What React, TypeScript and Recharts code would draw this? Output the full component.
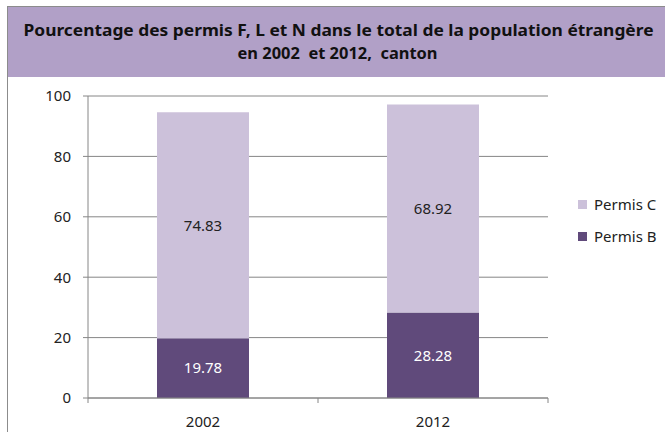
import { BarChart, Bar, XAxis, YAxis, CartesianGrid, Legend, LabelList } from "recharts";

const YEARS = ["2002", "2012"];
const PERMIS_B = [19.78, 28.28];
const PERMIS_C = [74.83, 68.92];
const Y_TICKS = [0, 20, 40, 60, 80, 100];

const TITLE_1 = "Pourcentage des permis F, L et N dans le total de la population étrangère";
const TITLE_2 = "en 2002  et 2012,  canton";

const COLOR_B = "#604a7b";
const COLOR_C = "#ccc1da";
const BAND = "#b1a0c7";
const AXIS = "#868686";
const FONT = "'Noto Sans', sans-serif";

const W = 665;
const H = 432;
const MARGIN = { top: 96, right: 117, bottom: 4, left: 8 };
const Y_AXIS_W = 80;
const X_TICK_SIZE = 5;
const X_TICK_MARGIN = 13;
const PLOT_W = W - MARGIN.left - MARGIN.right - Y_AXIS_W;

const data = YEARS.map((year, i) => ({ year, b: PERMIS_B[i], c: PERMIS_C[i] }));

const legendItems = [
  { label: "Permis C", color: COLOR_C },
  { label: "Permis B", color: COLOR_B },
];

function YearTick(props: any) {
  const { x, y, payload, index } = props;
  const half = PLOT_W / YEARS.length / 2;
  const axisY = y - X_TICK_SIZE - X_TICK_MARGIN;
  return (
    <g>
      <line x1={x - half} x2={x - half} y1={axisY} y2={axisY + X_TICK_SIZE} stroke={AXIS} />
      {index === YEARS.length - 1 && (
        <line x1={x + half} x2={x + half} y1={axisY} y2={axisY + X_TICK_SIZE} stroke={AXIS} />
      )}
      <text x={x} y={y} dy="0.71em" textAnchor="middle" fontSize={15} fill="#222" fontFamily={FONT}>
        {payload.value}
      </text>
    </g>
  );
}

function renderLegend() {
  return (
    <div style={{ fontFamily: FONT, fontSize: 15, color: "#222" }}>
      {legendItems.map((it) => (
        <div key={it.label} style={{ display: "flex", alignItems: "center", height: 32 }}>
          <span style={{ width: 9, height: 9, background: it.color, marginRight: 7, display: "inline-block" }} />
          {it.label}
        </div>
      ))}
    </div>
  );
}

export default function App() {
  return (
    <div style={{ position: "absolute", left: 0, top: 0, width: W, height: H, overflow: "hidden", background: "#fff" }}>
      <div
        style={{
          position: "absolute",
          left: 7,
          top: 6,
          width: 720,
          height: 520,
          border: "1px solid #8c8c8c",
          boxSizing: "border-box",
        }}
      />
      <svg style={{ position: "absolute", left: 8, top: 7 }} width={W - 8} height={70}>
        <rect x={0} y={0} width={W - 8} height={70} fill={BAND} />
        <text
          x={(W - 8) / 2 + 2}
          y={25}
          textAnchor="middle"
          dominantBaseline="middle"
          fontFamily={FONT}
          fontWeight="bold"
          fontSize={16}
          fill="#111"
          textLength={630}
          lengthAdjust="spacingAndGlyphs"
        >
          {TITLE_1}
        </text>
        <text
          x={(W - 8) / 2 + 1}
          y={48}
          textAnchor="middle"
          dominantBaseline="middle"
          fontFamily={FONT}
          fontWeight="bold"
          fontSize={16}
          fill="#111"
          textLength={200}
          lengthAdjust="spacingAndGlyphs"
          style={{ whiteSpace: "pre" }}
        >
          {TITLE_2}
        </text>
      </svg>
      <div style={{ position: "absolute", left: 0, top: 0 }}>
        <BarChart width={W} height={H} data={data} margin={MARGIN} barCategoryGap="30%">
          <CartesianGrid vertical={false} stroke={AXIS} />
          <XAxis
            dataKey="year"
            stroke={AXIS}
            tickLine={false}
            tickSize={X_TICK_SIZE}
            tickMargin={X_TICK_MARGIN}
            height={30}
            tick={<YearTick />}
          />
          <YAxis
            width={Y_AXIS_W}
            domain={[0, 100]}
            ticks={Y_TICKS}
            stroke={AXIS}
            tickSize={5}
            tickMargin={12}
            tick={{ fill: "#222", fontSize: 15, fontFamily: FONT }}
          />
          <Legend
            layout="horizontal"
            verticalAlign="middle"
            align="center"
            wrapperStyle={{ top: 188, left: 578, width: 90 }}
            content={renderLegend}
          />
          <Bar dataKey="b" stackId="s" fill={COLOR_B} isAnimationActive={false}>
            <LabelList dataKey="b" position="center" fill="#fff" fontSize={15} fontFamily={FONT} />
          </Bar>
          <Bar dataKey="c" stackId="s" fill={COLOR_C} isAnimationActive={false}>
            <LabelList dataKey="c" position="center" fill="#222" fontSize={15} fontFamily={FONT} />
          </Bar>
        </BarChart>
      </div>
    </div>
  );
}
